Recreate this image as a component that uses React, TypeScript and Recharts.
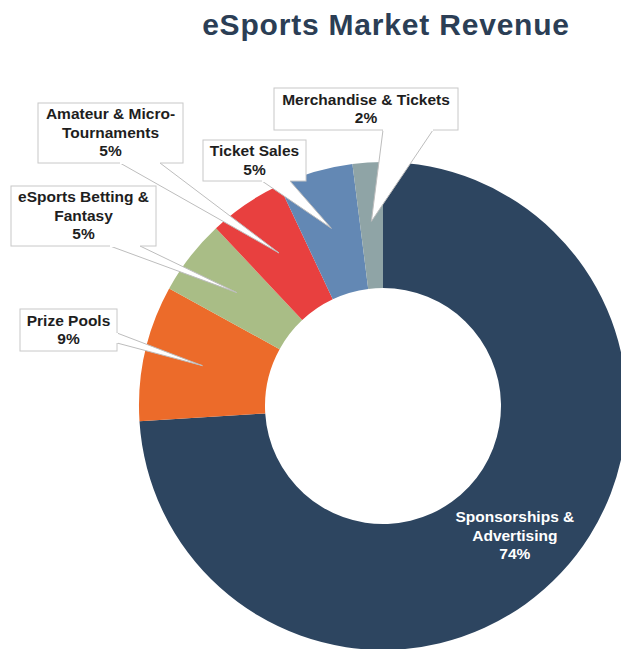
import React from "react";
import { PieChart, Pie, Cell } from "recharts";

document.body.style.margin = "0";

const categories = [
  "Sponsorships & Advertising",
  "Prize Pools",
  "eSports Betting & Fantasy",
  "Amateur & Micro-Tournaments",
  "Ticket Sales",
  "Merchandise & Tickets",
];
const shares = [74, 9, 5, 5, 5, 2];
const labelLines = [
  ["Sponsorships &", "Advertising"],
  ["Prize Pools"],
  ["eSports Betting &", "Fantasy"],
  ["Amateur & Micro-", "Tournaments"],
  ["Ticket Sales"],
  ["Merchandise & Tickets"],
];
const colors = ["#2d4560", "#ec6b2a", "#a9bd86", "#e8403f", "#6388b4", "#8fa4a6"];

const data = categories.map((name, i) => ({ name, value: shares[i] }));
const total = shares.reduce((a, b) => a + b, 0);

// callout boxes (layout only); null = label drawn inside the slice
type Callout = { x: number; y: number; w: number; h: number; base: [number, number][] } | null;
const callouts: Callout[] = [
  null,
  { x: 20, y: 309, w: 97, h: 42, base: [[117, 333], [117, 343]] },
  { x: 11, y: 186, w: 145, h: 60, base: [[110, 246], [140, 246]] },
  { x: 38, y: 103, w: 145, h: 60, base: [[120, 163], [160, 163]] },
  { x: 203, y: 140, w: 103, h: 41, base: [[262, 181], [290, 181]] },
  { x: 274, y: 88, w: 184, h: 42, base: [[383, 130], [433, 130]] },
];

const RAD = Math.PI / 180;
const FONT = "'Liberation Sans', Arial, sans-serif";
const LH = 18.5;

function renderLabel(props: any) {
  const { cx, cy, midAngle, innerRadius, outerRadius, index, value } = props;
  const box = callouts[index];
  const r = (innerRadius + outerRadius) / 2 + 4;
  const tx = cx + r * Math.cos(-midAngle * RAD);
  const ty = cy + r * Math.sin(-midAngle * RAD);
  const lines = [...labelLines[index], `${Math.round((value / total) * 100)}%`];

  if (!box) {
    const y0 = ty - ((lines.length - 1) * LH) / 2 + 8;
    return (
      <g key={`lbl-${index}`}>
        {lines.map((t, i) => (
          <text
            key={i}
            x={tx - 3}
            y={y0 + i * LH}
            textAnchor="middle"
            fill="#ffffff"
            fontFamily={FONT}
            fontWeight="bold"
            fontSize={15.5}
          >
            {t}
          </text>
        ))}
      </g>
    );
  }

  const [b1, b2] = box.base;
  const y0 = box.y + (box.h - lines.length * LH) / 2 + 14;
  return (
    <g key={`lbl-${index}`}>
      <polygon
        points={`${b1[0]},${b1[1]} ${tx},${ty} ${b2[0]},${b2[1]}`}
        fill="#ffffff"
        stroke="#bdbdbd"
        strokeWidth={1}
      />
      <rect x={box.x} y={box.y} width={box.w} height={box.h} fill="#ffffff" stroke="#c8c8c8" strokeWidth={1} />
      <line x1={b1[0]} y1={b1[1]} x2={b2[0]} y2={b2[1]} stroke="#ffffff" strokeWidth={2} />
      {lines.map((t, i) => (
        <text
          key={i}
          x={box.x + box.w / 2}
          y={y0 + i * LH}
          textAnchor="middle"
          fill="#1e1e1e"
          fontFamily={FONT}
          fontWeight="bold"
          fontSize={15.5}
        >
          {t}
        </text>
      ))}
    </g>
  );
}

export default function App() {
  return (
    <div style={{ position: "relative", width: 621, height: 649, background: "#fff", overflow: "hidden" }}>
      <div
        style={{
          position: "absolute",
          left: 0,
          top: 7,
          width: 772,
          textAlign: "center",
          fontFamily: FONT,
          fontWeight: "bold",
          fontSize: 30,
          letterSpacing: 0.8,
          color: "#2b3e55",
          lineHeight: "36px",
        }}
      >
        eSports Market Revenue
      </div>
      <PieChart width={621} height={649} margin={{ top: 0, right: 0, bottom: 0, left: 0 }}>
        <Pie
          data={data}
          dataKey="value"
          nameKey="name"
          cx={383}
          cy={406}
          innerRadius={118}
          outerRadius={244}
          startAngle={90}
          endAngle={-270}
          stroke="none"
          label={renderLabel}
          labelLine={false}
          isAnimationActive={false}
        >
          {data.map((d, i) => (
            <Cell key={d.name} fill={colors[i]} />
          ))}
        </Pie>
      </PieChart>
    </div>
  );
}
